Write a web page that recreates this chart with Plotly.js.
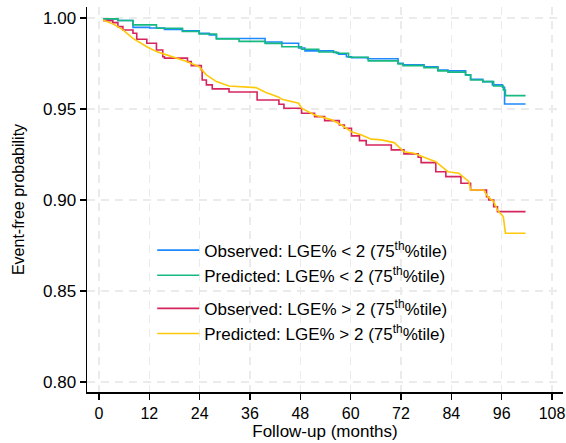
<!DOCTYPE html>
<html>
<head>
<meta charset="utf-8">
<script src="https://cdn.plot.ly/plotly-3.0.1.min.js"></script>
<style>html,body{margin:0;padding:0;background:#fff;}#chart{width:566px;height:443px;}</style>
</head>
<body>
<div id="chart"></div>
<script>
// Observed, LGE% < 2
const obsLowMonths = [1.0, 4.5, 8.1, 12.1, 15.6, 19.9, 23.9, 26.3, 28.0, 39.6, 43.6, 47.6, 49.1, 55.9, 57.1, 59.0, 60.2, 64.0, 71.3, 72.5, 77.5, 80.8, 83.2, 87.4, 88.6, 91.5, 93.8, 96.2, 96.7, 101.7];
const obsLowSurv   = [0.9995, 0.9986, 0.9948, 0.9945, 0.9937, 0.9929, 0.9915, 0.9907, 0.9887, 0.9868, 0.9861, 0.9835, 0.9819, 0.9810, 0.9801, 0.9787, 0.9782, 0.9776, 0.9751, 0.9742, 0.9732, 0.9714, 0.9709, 0.9687, 0.9663, 0.9650, 0.9632, 0.9619, 0.9527, 0.9527];
// Predicted, LGE% < 2
const predLowMonths = [1.0, 4.5, 8.1, 13.7, 19.9, 23.9, 28.0, 33.4, 39.6, 43.6, 48.3, 52.4, 56.6, 59.5, 64.2, 71.3, 72.5, 77.5, 80.8, 83.2, 87.4, 88.6, 91.5, 94.1, 96.4, 96.9, 101.7];
const predLowSurv   = [0.9995, 0.9986, 0.9962, 0.9943, 0.9925, 0.9912, 0.9885, 0.9871, 0.9860, 0.9842, 0.9828, 0.9813, 0.9806, 0.9784, 0.9764, 0.9747, 0.9738, 0.9727, 0.9709, 0.9702, 0.9687, 0.9659, 0.9650, 0.9626, 0.9604, 0.9573, 0.9573];
// Observed, LGE% > 2
const obsHighMonths = [1.0, 3.3, 4.5, 5.7, 8.1, 9.0, 11.4, 13.7, 15.2, 15.6, 21.1, 22.0, 24.4, 24.6, 25.6, 27.0, 31.0, 37.7, 42.9, 44.1, 48.3, 51.4, 53.8, 57.3, 58.5, 60.2, 62.1, 63.7, 69.7, 72.7, 76.1, 76.8, 80.3, 82.7, 86.3, 88.6, 92.4, 92.9, 94.1, 95.0, 101.7];
const obsHighSurv   = [0.9985, 0.9974, 0.9952, 0.9934, 0.9916, 0.9883, 0.9861, 0.9824, 0.9787, 0.9779, 0.9760, 0.9738, 0.9714, 0.9659, 0.9632, 0.9610, 0.9593, 0.9549, 0.9526, 0.9504, 0.9476, 0.9458, 0.9436, 0.9412, 0.9394, 0.9352, 0.9326, 0.9302, 0.9275, 0.9253, 0.9235, 0.9205, 0.9155, 0.9128, 0.9092, 0.9055, 0.9018, 0.9000, 0.8963, 0.8936, 0.8936];
// Predicted, LGE% > 2
const predHighMonths = [1.0, 3.8, 5.7, 8.1, 11.4, 13.7, 16.1, 20.9, 23.9, 25.6, 28.0, 31.0, 37.4, 39.8, 42.9, 43.6, 47.6, 48.3, 51.4, 55.5, 57.8, 60.2, 62.6, 64.9, 67.3, 70.4, 72.7, 75.1, 77.5, 80.3, 83.2, 85.8, 88.2, 88.6, 91.7, 92.7, 94.1, 95.0, 96.4, 96.9, 101.7];
const predHighSurv   = [0.9989, 0.9962, 0.9934, 0.9888, 0.9842, 0.9815, 0.9797, 0.9760, 0.9732, 0.9687, 0.9650, 0.9626, 0.9617, 0.9590, 0.9564, 0.9553, 0.9531, 0.9504, 0.9467, 0.9440, 0.9412, 0.9375, 0.9357, 0.9334, 0.9330, 0.9315, 0.9265, 0.9257, 0.9235, 0.9210, 0.9155, 0.9147, 0.9101, 0.9055, 0.9055, 0.9018, 0.8991, 0.8945, 0.8908, 0.8817, 0.8817];

const seriesNames = [
  "Observed: LGE% &lt; 2 (75<sup>th</sup>%tile)",
  "Predicted: LGE% &lt; 2 (75<sup>th</sup>%tile)",
  "Observed: LGE% &gt; 2 (75<sup>th</sup>%tile)",
  "Predicted: LGE% &gt; 2 (75<sup>th</sup>%tile)"
];
const xTicks = [0, 12, 24, 36, 48, 60, 72, 84, 96, 108];
const yTicks = [0.80, 0.85, 0.90, 0.95, 1.00];

const colors = ["#1E88FF", "#16B97F", "#D6245E", "#FFC80A"];

const traces = [
  {x: obsLowMonths, y: obsLowSurv, name: seriesNames[0], legendgroup: "a", line: {shape: "hv", color: colors[0], width: 1.6}},
  {x: predLowMonths, y: predLowSurv, name: seriesNames[1], legendgroup: "a", line: {shape: "hv", color: colors[1], width: 1.6}},
  {x: obsHighMonths, y: obsHighSurv, name: seriesNames[2], legendgroup: "b", line: {shape: "hv", color: colors[2], width: 1.6}},
  {x: predHighMonths, y: predHighSurv, name: seriesNames[3], legendgroup: "b", line: {shape: "linear", color: colors[3], width: 1.6}}
].map(t => Object.assign({type: "scatter", mode: "lines", hoverinfo: "skip"}, t));

const fam = "Liberation Sans, Arial, sans-serif";
const layout = {
  width: 566, height: 443,
  margin: {l: 87, r: 3, t: 7, b: 51, pad: 0},
  paper_bgcolor: "#fff", plot_bgcolor: "#fff",
  font: {family: fam, size: 17, color: "#000"},
  showlegend: true,
  legend: {
    x: 0.137, xanchor: "left", y: 0.414, yanchor: "top",
    bgcolor: "rgba(0,0,0,0)", borderwidth: 0,
    traceorder: "grouped", tracegroupgap: 8,
    itemwidth: 42,
    font: {family: fam, size: 17, color: "#000"}
  },
  xaxis: {
    range: [-2.86, 110.63],
    tickvals: xTicks, ticktext: xTicks.map(String),
    ticklabeloverflow: "allow",
    tickfont: {size: 16},
    showline: true, linecolor: "#000", linewidth: 1.5,
    ticks: "outside", ticklen: 6, tickcolor: "#000", tickwidth: 1.2,
    showgrid: true, gridcolor: "#ebebeb", gridwidth: 1.5, griddash: "8px,6px",
    zeroline: false,
    title: {text: "Follow-up (months)", standoff: 3, font: {size: 17}}
  },
  yaxis: {
    range: [0.7945, 1.006],
    tickvals: yTicks, ticktext: yTicks.map(v => v.toFixed(2)),
    tickfont: {size: 17},
    showline: true, linecolor: "#000", linewidth: 1.5,
    ticks: "outside", ticklen: 6, tickcolor: "#000", tickwidth: 1.2,
    showgrid: true, gridcolor: "#ebebeb", gridwidth: 1.5, griddash: "8px,6px",
    zeroline: false,
    title: {text: "Event-free probability", standoff: 14, font: {size: 16}}
  }
};

Plotly.newPlot("chart", traces, layout, {staticPlot: true, displayModeBar: false});
</script>
</body>
</html>
